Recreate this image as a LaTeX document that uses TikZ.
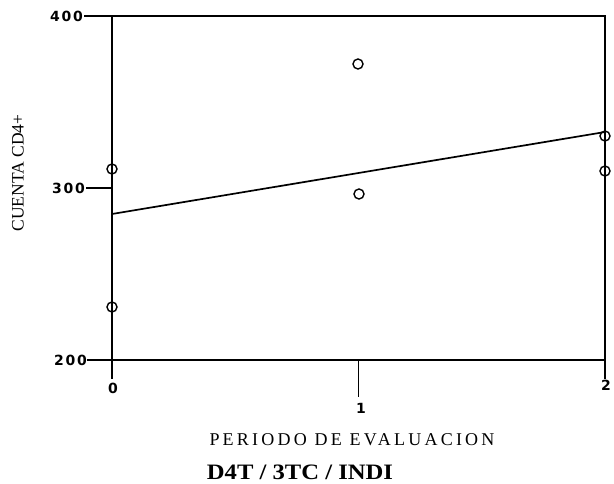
\documentclass[tikz,border=0pt]{standalone}
\usepackage{graphicx}
\usepackage{fontspec}
\setmainfont{Liberation Serif}
\newfontfamily\ticklbl[LetterSpace=12]{DejaVu Sans}
\newfontfamily\xlblfont[LetterSpace=18]{Liberation Serif}
\begin{document}
\begin{tikzpicture}[x=1pt,y=-1pt,
  axisline/.style={line width=1.7pt,line cap=rect},
  pt/.style={circle,draw,line width=1.4pt,inner sep=0pt,minimum size=10pt},
  tick/.style={font=\ticklbl\bfseries\fontsize{14}{16}\selectfont,inner sep=0pt},
]
\useasboundingbox (0,0) rectangle (614,484);
% frame corners
\coordinate (tl) at (112,16);
\coordinate (tr) at (605,16);
\coordinate (bl) at (112,360);
\coordinate (br) at (605,360);
\coordinate (t400) at (85,16);
\coordinate (t300a) at (87,188);
\coordinate (t300b) at (112,188);
\coordinate (t200) at (88,360);
\coordinate (x0) at (112,378);
\coordinate (x1a) at (358.5,360);
\coordinate (x1b) at (358.5,396);
\coordinate (x2) at (605,378);
\draw[axisline] (t400) -- (tr);
\draw[axisline] (tl) -- (x0);
\draw[axisline] (tr) -- (x2);
\draw[axisline] (t200) -- (br);
\draw[axisline] (t300a) -- (t300b);
\draw[axisline] (x1a) -- (x1b);
% tick labels
\node[tick,anchor=east] (l400) at (83,16) {400};
\node[tick,anchor=east] (l300) at (85,188) {300};
\node[tick,anchor=east] (l200) at (87,360) {200};
\node[tick] (l0) at (113,388) {0};
\node[tick] (l1) at (361,408) {1};
\node[tick] (l2) at (606,385) {2};
% regression line
\coordinate (r0) at (112,214);
\coordinate (r2) at (605,132);
\draw[line width=1.7pt] (r0) -- (r2);
% data points
\node[pt] (p1) at (112,169) {};
\node[pt] (p2) at (112,307) {};
\node[pt] (p3) at (358,64) {};
\node[pt] (p4) at (359,194) {};
\node[pt] (p5) at (605,136) {};
\node[pt] (p6) at (605,171) {};
% axis titles
\node[rotate=90,font=\fontsize{17.5}{20}\selectfont,inner sep=0pt] (ylab) at (18,173) {CUENTA CD4+};
\node[font=\xlblfont\fontsize{18}{20}\selectfont,inner sep=0pt] (xlab) at (352,440) {PERIODO DE EVALUACION};
\node[font=\bfseries\fontsize{22}{24}\selectfont,inner sep=0pt] (title) at (300,472) {\scalebox{1.12}[1]{D4T / 3TC / INDI}};
\end{tikzpicture}
\end{document}
